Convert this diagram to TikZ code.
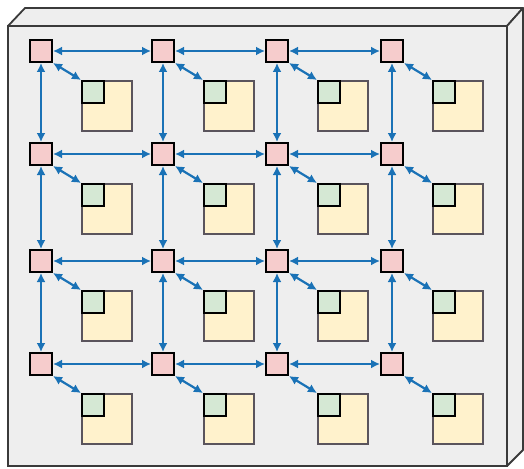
\documentclass[tikz,border=0pt]{standalone}
\usepackage{xcolor}
\usetikzlibrary{arrows.meta}

\definecolor{chipface}{HTML}{EEEEEE}
\definecolor{chipedge}{HTML}{3A3A3A}
\definecolor{routerfill}{HTML}{F6CCCC}
\definecolor{corefill}{HTML}{FFF2CC}
\definecolor{cachefill}{HTML}{D5E8D4}
\definecolor{coreedge}{HTML}{5A545C}
\definecolor{linkblue}{HTML}{1A72B6}

\begin{document}
\begin{tikzpicture}[x=1pt,y=-1pt,
  router/.style={draw=black,line width=2pt,fill=routerfill,minimum size=22pt,inner sep=0pt},
  core/.style={draw=coreedge,line width=2pt,fill=corefill,minimum size=50pt,inner sep=0pt,anchor=north west},
  cache/.style={draw=black,line width=2pt,fill=cachefill,minimum size=22pt,inner sep=0pt,anchor=north west},
  link/.style={draw=linkblue,line width=2.2pt,{Latex[length=9pt,width=9pt]}-{Latex[length=9pt,width=9pt]}}]

\useasboundingbox (0,0) rectangle (524,468);

% chip body
\draw[chipedge,fill=chipface,line width=1.8pt,line join=round] (8,26) -- (25,8) -- (523,8) -- (507,26) -- cycle;
\draw[chipedge,fill=chipface,line width=1.8pt,line join=round] (507,26) -- (523,8) -- (523,450) -- (507,466) -- cycle;
\draw[chipedge,fill=chipface,line width=1.8pt] (8,26) rectangle (507,466);

% tiles: router, core and its cache
\foreach \x [count=\i] in {41,163,277,392} {
  \foreach \y [count=\j] in {51,154,261,364} {
    \node[router] (r\i\j) at (\x,\y) {};
    \node[core] (c\i\j) at (\x+40,\y+29) {};
    \node[cache] (k\i\j) at (c\i\j.north west) {};
    \draw[link] (r\i\j.south east) -- (k\i\j.north west);
  }
}

% mesh links
\foreach \i/\n in {1/2,2/3,3/4} {
  \foreach \j in {1,...,4} {
    \draw[link] (r\i\j) -- (r\n\j);
    \draw[link] (r\j\i) -- (r\j\n);
  }
}

\end{tikzpicture}
\end{document}
